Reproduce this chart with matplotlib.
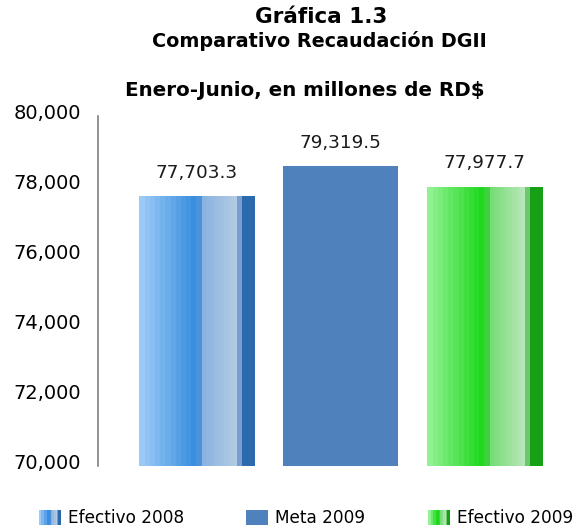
import numpy as np
import matplotlib
matplotlib.use("Agg")
import matplotlib.pyplot as plt
from matplotlib.colors import to_rgb
from matplotlib.legend_handler import HandlerBase
from matplotlib.patches import Rectangle
from matplotlib.transforms import ScaledTranslation

categories = ["Efectivo 2008", "Meta 2009", "Efectivo 2009"]
bar_values = [77703.3, 78560.0, 77977.7]
value_labels = ["77,703.3", "79,319.5", "77,977.7"]
yticks = [70000, 72000, 74000, 76000, 78000, 80000]
ytick_labels = ["70,000", "72,000", "74,000", "76,000", "78,000", "80,000"]
title1 = "Gráfica 1.3"
title2 = "Comparativo Recaudación DGII"
title3 = "Enero-Junio, en millones de RD$"

# strip gradients (fraction of width, colour)
blue_strips = [
    (0.49, "#9ccaf7", "#3a8ee0"), (0.05, "#4a92dc", "#4a92dc"),
    (0.30, "#8ab4e0", "#b2cbe3"), (0.045, "#7a9ecf", "#7a9ecf"),
    (0.115, "#2a6aad", "#2a6aad"),
]
green_strips = [
    (0.49, "#90f290", "#1ed81e"), (0.05, "#3ad43a", "#3ad43a"),
    (0.30, "#78dc78", "#b8e6b8"), (0.045, "#6cc86c", "#6cc86c"),
    (0.115, "#15a015", "#15a015"),
]
mid_color = "#4f81bd"


def strip_image(strips, n=115, steps=11):
    cols = []
    for frac, c0, c1 in strips:
        k = max(1, int(round(frac * n)))
        a, b = np.array(to_rgb(c0)), np.array(to_rgb(c1))
        for i in range(k):
            t = np.floor(i / k * steps) / max(steps - 1, 1) if c0 != c1 else 0
            t = min(t, 1)
            cols.append(a + (b - a) * t)
    return np.array(cols)[None, :, :]


W, H = 588, 529
fig = plt.figure(figsize=(W / 100, H / 100), dpi=100)
plt.rcParams['font.family'] = ['DejaVu Sans']
ax_l, ax_r, ax_t, ax_b = 98, 583, 116, 466
ax = fig.add_axes([ax_l / W, 1 - ax_b / H, (ax_r - ax_l) / W, (ax_b - ax_t) / H])

x = np.arange(len(categories))
bars = ax.bar(x, [v - 70000 for v in bar_values], bottom=70000, width=0.8,
              color=["none", mid_color, "none"], edgecolor="none", zorder=2)
ax.set_xlim(-0.684, 2.684)
ax.set_ylim(70000, 80000)

for rect, strips in ((bars[0], blue_strips), (bars[2], green_strips)):
    img = strip_image(strips)
    x0 = rect.get_x()
    im = ax.imshow(img, extent=[x0, x0 + rect.get_width(), rect.get_y(),
                                rect.get_y() + rect.get_height()],
                   aspect="auto", interpolation="nearest", zorder=2)
    im.set_clip_path(rect)

for rect, lab in zip(bars, value_labels):
    ax.annotate(lab, (rect.get_x() + rect.get_width() / 2, rect.get_y() + rect.get_height()),
                xytext=(0, 10.5), textcoords="offset points", ha="center", va="bottom",
                fontsize=13.3, color="#1a1a1a")

ax.set_yticks(yticks)
ax.set_yticklabels(ytick_labels, fontsize=14)
ax.tick_params(axis="y", length=0, pad=12)
ax.set_xticks([])
for s in ["top", "right", "bottom"]:
    ax.spines[s].set_visible(False)
ax.spines["left"].set_color("#808080")
ax.spines["left"].set_linewidth(1.2)
off = ScaledTranslation(0, 4 / 100, fig.dpi_scale_trans)
for lbl in ax.get_yticklabels():
    lbl.set_transform(lbl.get_transform() + off)

fig.text(321 / W, 1 - 17 / H, title1, ha="center", va="center", fontsize=15.5, fontweight="bold")
fig.text(319 / W, 1 - 41 / H, title2, ha="center", va="center", fontsize=13.8, fontweight="bold")
fig.text(305 / W, 1 - 90 / H, title3, ha="center", va="center", fontsize=14.3, fontweight="bold")


class StripHandler(HandlerBase):
    def __init__(self, strips):
        super().__init__()
        self.strips = strips

    def create_artists(self, legend, orig_handle, xdescent, ydescent, width, height, fontsize, trans):
        img = strip_image(self.strips, n=24, steps=4)[0]
        n = len(img)
        arts = []
        for i, c in enumerate(img):
            arts.append(Rectangle((-xdescent + i * width / n, -ydescent), width / n * 1.05, height,
                                  facecolor=c, edgecolor="none", transform=trans))
        return arts


handles = [bars[0], bars[1], bars[2]]
leg = fig.legend(handles, categories, loc="center", bbox_to_anchor=(0.52, 1 - 518 / H),
                 ncol=3, frameon=False, fontsize=12.2, handlelength=1.3, handleheight=1.0,
                 columnspacing=3.7, handletextpad=0.4,
                 handler_map={bars[0]: StripHandler(blue_strips), bars[2]: StripHandler(green_strips)})

fig.savefig("out.png", dpi=100)
